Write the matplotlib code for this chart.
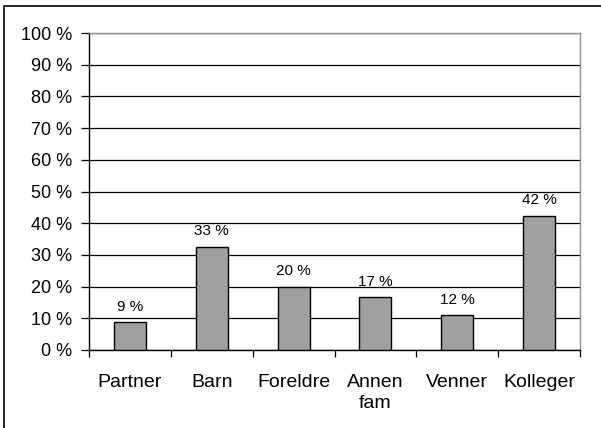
import matplotlib.pyplot as plt
from matplotlib.patches import Rectangle
import numpy as np

plt.rcParams['font.family'] = ['Liberation Sans', 'DejaVu Sans']

# Data
categories = ["Partner", "Barn", "Foreldre", "Annen\nfam", "Venner", "Kolleger"]
values = [8.7, 32.6, 20.0, 16.7, 11.1, 42.4]
value_labels = ["9 %", "33 %", "20 %", "17 %", "12 %", "42 %"]
y_ticks = list(range(0, 101, 10))

W, H = 601, 428
fig = plt.figure(figsize=(W / 100, H / 100), dpi=100)

# outer chart border (only top and left visible in the reference)
fig.add_artist(Rectangle((4 / W, -0.02), 1.1, (H - 6) / H + 0.02, transform=fig.transFigure,
                         fill=False, edgecolor='black', linewidth=1.2))

ax = fig.add_axes([89 / W, (H - 350) / H, (580 - 89) / W, (350 - 33) / H])

x = np.arange(len(categories))
ax.bar(x, values, width=0.39, color='#a0a0a0', edgecolor='black', linewidth=1.0, zorder=3)

for xi, v, lab in zip(x, values, value_labels):
    ax.text(xi, v + 2.6, lab, ha='center', va='bottom', fontsize=11, zorder=4)

ax.set_xlim(-0.5, len(categories) - 0.5)
ax.set_ylim(0, 100)
ax.set_yticks(y_ticks)
ax.set_yticklabels([f"{t} %" for t in y_ticks], fontsize=13)
ax.yaxis.grid(True, color='black', linewidth=0.9, zorder=0)

# category labels between ticks
ax.set_xticks(x)
ax.set_xticklabels(categories, fontsize=14, linespacing=1.3)
ax.tick_params(axis='x', length=0, pad=17)
ax.set_xticks(np.arange(len(categories) + 1) - 0.5, minor=True)
ax.tick_params(axis='x', which='minor', length=5, width=0.9, direction='out')
ax.tick_params(axis='y', length=6, width=0.9, direction='out', pad=6)

ax.spines['left'].set_color('black')
ax.spines['bottom'].set_color('black')
ax.spines['top'].set_color('#909090')
ax.spines['right'].set_color('#909090')
for s in ax.spines.values():
    s.set_linewidth(1.0)

fig.savefig('out.png', dpi=100)
